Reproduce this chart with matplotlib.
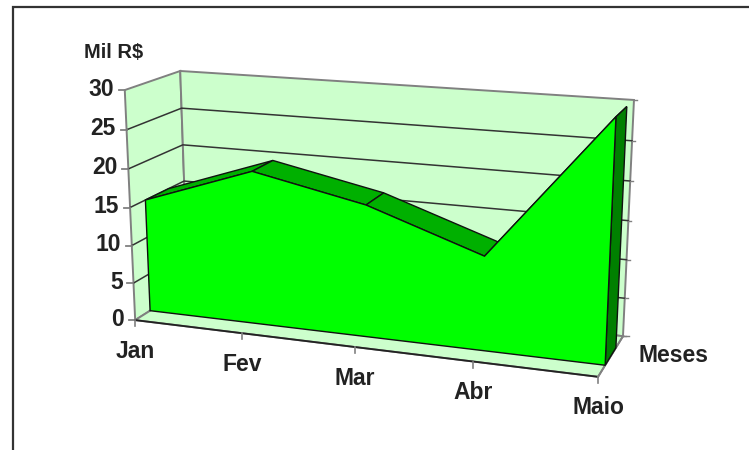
"""Monthly values (Mil R$) as a 3-D style area chart, Jan to Maio."""
import numpy as np
import matplotlib

matplotlib.use("Agg")
import matplotlib.pyplot as plt
from matplotlib.patches import Polygon

plt.rcParams["font.family"] = ["Liberation Sans", "DejaVu Sans"]

months = ["Jan", "Fev", "Mar", "Abr", "Maio"]
values = [15, 20, 17, 12, 30]
y_ticks = [0, 5, 10, 15, 20, 25, 30]
y_label = "Mil R$"
depth_label = "Meses"

WALL = "#CCFFCC"
FRONT = "#00FF00"
TOP = "#00B000"
SIDE = "#008000"
EDGE = "#808080"
TEXT = "#222222"
Z_FRONT, Z_BACK = 0.27, 0.70

# box corners as (x, value, depth) -> pixel position, fitted to a projective camera
corners = [
    ((0, 0, 0), (135, 320)),
    ((1, 0, 0), (598, 377)),
    ((0, 30, 0), (125, 90)),
    ((0, 30, 1), (180, 71)),
    ((1, 30, 1), (634, 100)),
    ((1, 0, 1), (623, 336)),
    ((0, 0, 1), (188, 287)),
]


def fit_camera(pairs):
    rows = []
    for (x, v, z), (px, py) in pairs:
        X = [x, v / 30, z, 1]
        rows.append(X + [0, 0, 0, 0] + [-px * c for c in X])
        rows.append([0, 0, 0, 0] + X + [-py * c for c in X])
    return np.linalg.svd(np.array(rows, float))[2][-1].reshape(3, 4)


CAM = fit_camera(corners)


def proj(x, v, z):
    p = CAM @ np.array([x, v / 30, z, 1.0])
    return p[0] / p[2], p[1] / p[2]


def month_x(i):
    return i / (len(months) - 1)


fig = plt.figure(figsize=(7.49, 4.5), dpi=100)
ax = fig.add_axes([0, 0, 1, 1])
ax.set_xlim(0, 749)
ax.set_ylim(450, 0)
ax.axis("off")

# outer frame, left and top sides only
ax.plot([12.5, 12.5, 749], [450, 6.5, 6.5], color="#333333", lw=1.6, solid_joinstyle="miter")

# walls and floor
top = y_ticks[-1]
walls = [
    [proj(0, 0, 0), proj(0, top, 0), proj(0, top, 1), proj(0, 0, 1)],
    [proj(0, 0, 1), proj(0, top, 1), proj(1, top, 1), proj(1, 0, 1)],
    [proj(0, 0, 0), proj(0, 0, 1), proj(1, 0, 1), proj(1, 0, 0)],
]
for pts in walls:
    ax.add_patch(Polygon(pts, closed=True, fc=WALL, ec=EDGE, lw=1.4, joinstyle="miter", zorder=1))

# gridlines across side and back walls
for v in y_ticks[1:-1]:
    a, b, c = proj(0, v, 0), proj(0, v, 1), proj(1, v, 1)
    ax.plot([a[0], b[0], c[0]], [a[1], b[1], c[1]], color="#333333", lw=1.1, zorder=2)

# value axis ticks and labels
for v in y_ticks:
    a = proj(0, v, 0)
    ax.plot([a[0] - 6, a[0]], [a[1], a[1]], color=EDGE, lw=1.3, zorder=2)
    ax.text(a[0] - 11, a[1] - 1, str(v), ha="right", va="center", fontsize=16.5,
            fontweight="bold", color=TEXT)
    b = proj(1, v, 1)
    ax.plot([b[0], b[0] + 3], [b[1], b[1]], color=EDGE, lw=1.0, zorder=2)

# floor edge ticks and month labels
a, b = proj(0, 0, 0), proj(1, 0, 0)
ax.plot([a[0], b[0]], [a[1], b[1]], color="#222222", lw=1.3, zorder=2)
c = proj(1, 0, 1)
ax.plot([b[0], c[0]], [b[1], c[1]], color=EDGE, lw=1.3, zorder=2)
ax.plot([c[0], c[0] + 6], [c[1], c[1]], color=EDGE, lw=1.0, zorder=2)
for i, m in enumerate(months):
    p = proj(month_x(i), 0, 0)
    ax.plot([p[0], p[0]], [p[1], p[1] + 6], color=EDGE, lw=1.2, zorder=2)
    ax.text(p[0], p[1] + 31, m, ha="center", va="center", fontsize=16.5,
            fontweight="bold", color=TEXT)

# area body: top strips, right side, then the front face
for i in range(len(months) - 1):
    x0, x1 = month_x(i), month_x(i + 1)
    strip = [proj(x0, values[i], Z_FRONT), proj(x1, values[i + 1], Z_FRONT),
             proj(x1, values[i + 1], Z_BACK), proj(x0, values[i], Z_BACK)]
    ax.add_patch(Polygon(strip, closed=True, fc=TOP, ec="#111111", lw=1.0, zorder=3))

side = [proj(1, 0, Z_FRONT), proj(1, values[-1], Z_FRONT),
        proj(1, values[-1], Z_BACK), proj(1, 0, Z_BACK)]
ax.add_patch(Polygon(side, closed=True, fc=SIDE, ec="#111111", lw=1.0, zorder=3))

front = [proj(0, 0, Z_FRONT)]
front += [proj(month_x(i), v, Z_FRONT) for i, v in enumerate(values)]
front += [proj(1, 0, Z_FRONT)]
ax.add_patch(Polygon(front, closed=True, fc=FRONT, ec="#111111", lw=1.0, zorder=4))

ax.text(84, 52, y_label, ha="left", va="center", fontsize=14.5, fontweight="bold", color=TEXT)
ax.text(673, 355, depth_label, ha="center", va="center", fontsize=16.5, fontweight="bold", color=TEXT)

fig.savefig("out.png", dpi=100)
